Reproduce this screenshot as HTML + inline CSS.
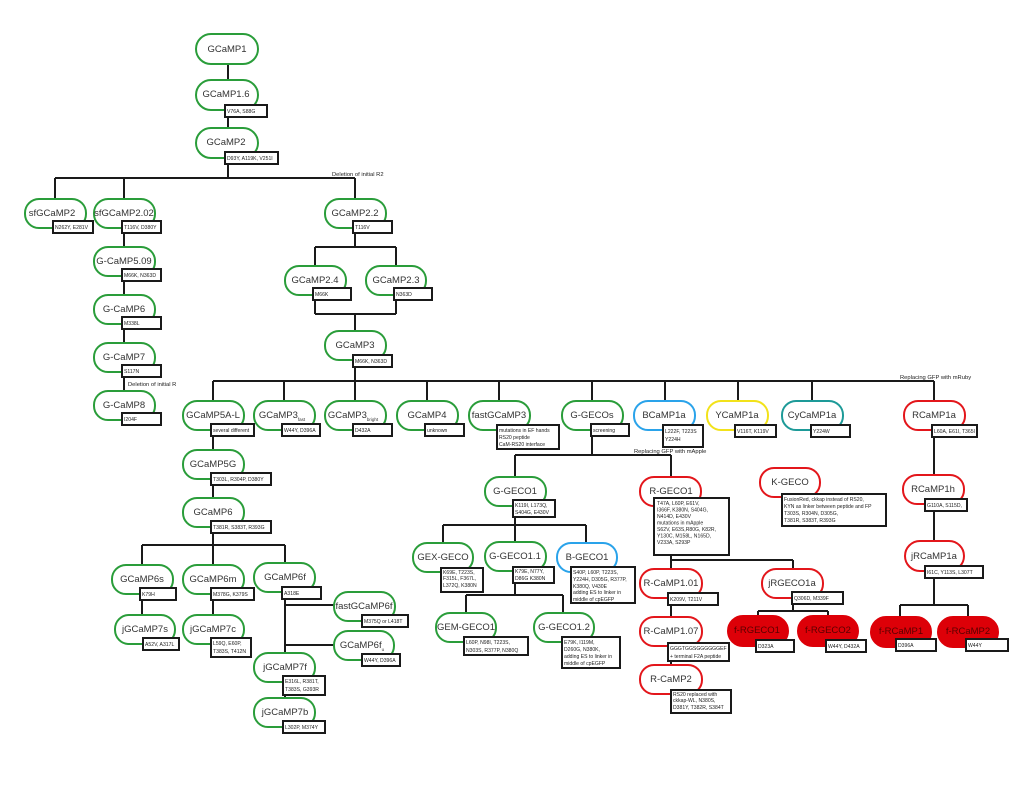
<!DOCTYPE html>
<html><head><meta charset="utf-8"><style>
html,body{margin:0;padding:0;background:#fff;}
svg{display:block;font-family:"Liberation Sans",sans-serif;}
.l{stroke:#1a1a1a;stroke-width:2;fill:none;}
.g{fill:#fff;stroke:#2a9d3a;stroke-width:2;}
.b{fill:#fff;stroke:#2aa3ea;stroke-width:2;}
.y{fill:#fff;stroke:#f2e21a;stroke-width:2;}
.c{fill:#fff;stroke:#1d9a98;stroke-width:2;}
.r{fill:#fff;stroke:#e3161b;stroke-width:2;}
.f{fill:#dd0008;stroke:#dd0008;stroke-width:2;}
.bx{fill:#fff;stroke:#1a1a1a;stroke-width:2;}
.n{font-size:9.5px;fill:#333;text-anchor:middle;}
.nf{font-size:9.5px;fill:#5a0000;text-anchor:middle;}
.t{font-size:5.1px;fill:#222;}
.lab{font-size:5.8px;fill:#222;}
.s{font-size:4.5px;}
</style></head><body>
<svg width="1024" height="807" viewBox="0 0 1024 807">
<path class="l" d="M228 64V80 M228 110V128 M228 158V178 M55 178H355 M55 178V199 M124 178V392 M355 178V247 M315 247H396 M315 247V314 M396 247V314 M315 314H396 M355 314V381 M213 381H934
M213 381V545 M284 381V401 M355 381V401 M427 381V401 M499 381V401 M592 381V455 M665 381V401 M738 381V401 M812 381V401 M934 381V605
M142 545H285 M142 545V615 M213 545V615 M285 545V698 M285 605H334 M285 645H334
M515 455H671 M515 455V595 M443 525H586 M443 525V543 M586 525V543 M466 595H563 M466 595V613 M563 595V613
M671 455V665 M671 560H793 M793 560V611 M758 611H828 M758 611V616 M828 611V616
M900 605H968 M900 605V617 M968 605V617"/>
<text class="lab" x="332" y="176">Deletion of initial R2</text>
<text class="lab" x="128" y="386">Deletion of initial R</text>
<text class="lab" x="900" y="379">Replacing GFP with mRuby</text>
<text class="lab" x="634" y="453">Replacing GFP with mApple</text>

<rect class="g" x="196" y="34" width="62" height="30" rx="15"/><text class="n" x="227" y="52">GCaMP1</text>
<rect class="g" x="196" y="80" width="62" height="30" rx="15"/><text class="n" x="226" y="97">GCaMP1.6</text>
<rect class="bx" x="225" y="105" width="42" height="12"/><text class="t" x="227" y="113">V76A, S88G</text>
<rect class="g" x="196" y="128" width="62" height="30" rx="15"/><text class="n" x="226" y="145">GCaMP2</text>
<rect class="bx" x="225" y="152" width="53" height="12"/><text class="t" x="227" y="160">D93Y, A119K, V251I</text>

<rect class="g" x="25" y="199" width="61" height="29" rx="14"/><text class="n" x="52" y="216">sfGCaMP2</text>
<rect class="bx" x="53" y="221" width="40" height="12"/><text class="t" x="55" y="229">N262Y, E281V</text>
<rect class="g" x="94" y="199" width="61" height="29" rx="14"/><text class="n" x="124" y="216">sfGCaMP2.02</text>
<rect class="bx" x="122" y="221" width="39" height="12"/><text class="t" x="124" y="229">T116V, D380Y</text>
<rect class="g" x="94" y="247" width="61" height="29" rx="14"/><text class="n" x="124" y="264">G-CaMP5.09</text>
<rect class="bx" x="122" y="269" width="39" height="12"/><text class="t" x="124" y="277">M66K, N363D</text>
<rect class="g" x="94" y="295" width="61" height="29" rx="14"/><text class="n" x="124" y="312">G-CaMP6</text>
<rect class="bx" x="122" y="317" width="39" height="12"/><text class="t" x="124" y="325">M338L</text>
<rect class="g" x="94" y="343" width="61" height="29" rx="14"/><text class="n" x="124" y="360">G-CaMP7</text>
<rect class="bx" x="122" y="365" width="39" height="12"/><text class="t" x="124" y="373">S117N</text>
<rect class="g" x="94" y="391" width="61" height="29" rx="14"/><text class="n" x="124" y="408">G-CaMP8</text>
<rect class="bx" x="122" y="413" width="39" height="12"/><text class="t" x="124" y="421">I204F</text>

<rect class="g" x="325" y="199" width="61" height="29" rx="14"/><text class="n" x="355" y="216">GCaMP2.2</text>
<rect class="bx" x="353" y="221" width="39" height="12"/><text class="t" x="355" y="229">T116V</text>
<rect class="g" x="285" y="266" width="61" height="29" rx="14"/><text class="n" x="315" y="283">GCaMP2.4</text>
<rect class="bx" x="313" y="288" width="38" height="12"/><text class="t" x="315" y="296">M66K</text>
<rect class="g" x="366" y="266" width="60" height="29" rx="14"/><text class="n" x="396" y="283">GCaMP2.3</text>
<rect class="bx" x="394" y="288" width="38" height="12"/><text class="t" x="396" y="296">N363D</text>
<rect class="g" x="325" y="331" width="61" height="29" rx="14"/><text class="n" x="355" y="348">GCaMP3</text>
<rect class="bx" x="353" y="355" width="39" height="12"/><text class="t" x="355" y="363">M66K, N363D</text>

<rect class="g" x="183" y="401" width="61" height="29" rx="14"/><text class="n" x="213" y="418">GCaMP5A-L</text>
<rect class="bx" x="211" y="424" width="43" height="12"/><text class="t" x="213" y="432">several different</text>
<rect class="g" x="254" y="401" width="61" height="29" rx="14"/><text class="n" x="282" y="418">GCaMP3<tspan class="s" dy="3">fast</tspan></text>
<rect class="bx" x="282" y="424" width="38" height="12"/><text class="t" x="284" y="432">W44Y, D396A</text>
<rect class="g" x="325" y="401" width="61" height="29" rx="14"/><text class="n" x="353" y="418">GCaMP3<tspan class="s" dy="3">bright</tspan></text>
<rect class="bx" x="353" y="424" width="39" height="12"/><text class="t" x="355" y="432">D432A</text>
<rect class="g" x="397" y="401" width="61" height="29" rx="14"/><text class="n" x="427" y="418">GCaMP4</text>
<rect class="bx" x="425" y="424" width="39" height="12"/><text class="t" x="427" y="432">unknown</text>
<rect class="g" x="469" y="401" width="61" height="29" rx="14"/><text class="n" x="499" y="418">fastGCaMP3</text>
<rect class="bx" x="497" y="425" width="62" height="24"/><text class="t" x="499" y="432">mutations in EF hands</text><text class="t" x="499" y="439">RS20 peptide</text><text class="t" x="499" y="446">CaM-RS20 interface</text>
<rect class="g" x="562" y="401" width="61" height="29" rx="14"/><text class="n" x="592" y="418">G-GECOs</text>
<rect class="bx" x="591" y="424" width="38" height="12"/><text class="t" x="593" y="432">screening</text>
<rect class="b" x="634" y="401" width="61" height="29" rx="14"/><text class="n" x="664" y="418">BCaMP1a</text>
<rect class="bx" x="663" y="425" width="40" height="22"/><text class="t" x="665" y="433">L222F, T223S</text><text class="t" x="665" y="441">Y224H</text>
<rect class="y" x="707" y="401" width="61" height="29" rx="14"/><text class="n" x="737" y="418">YCaMP1a</text>
<rect class="bx" x="735" y="425" width="41" height="12"/><text class="t" x="737" y="433">V116T, K119V</text>
<rect class="c" x="782" y="401" width="61" height="29" rx="14"/><text class="n" x="812" y="418">CyCaMP1a</text>
<rect class="bx" x="811" y="425" width="39" height="12"/><text class="t" x="813" y="433">Y224W</text>
<rect class="r" x="904" y="401" width="61" height="29" rx="14"/><text class="n" x="934" y="418">RCaMP1a</text>
<rect class="bx" x="932" y="425" width="45" height="12"/><text class="t" x="934" y="433">L60A, E61I, T365I</text>

<rect class="g" x="183" y="450" width="61" height="29" rx="14"/><text class="n" x="213" y="467">GCaMP5G</text>
<rect class="bx" x="211" y="473" width="60" height="12"/><text class="t" x="213" y="481">T303L, R304P, D380Y</text>
<rect class="g" x="183" y="498" width="61" height="29" rx="14"/><text class="n" x="213" y="515">GCaMP6</text>
<rect class="bx" x="211" y="521" width="60" height="12"/><text class="t" x="213" y="529">T381R, S383T, R393G</text>
<rect class="g" x="112" y="565" width="61" height="29" rx="14"/><text class="n" x="142" y="582">GCaMP6s</text>
<rect class="bx" x="140" y="588" width="36" height="12"/><text class="t" x="142" y="596">K79H</text>
<rect class="g" x="183" y="565" width="61" height="29" rx="14"/><text class="n" x="213" y="582">GCaMP6m</text>
<rect class="bx" x="211" y="588" width="43" height="12"/><text class="t" x="213" y="596">M378G, K379S</text>
<rect class="g" x="254" y="563" width="61" height="29" rx="14"/><text class="n" x="285" y="580">GCaMP6f</text>
<rect class="bx" x="282" y="587" width="39" height="12"/><text class="t" x="284" y="595">A318E</text>
<rect class="g" x="115" y="615" width="60" height="29" rx="14"/><text class="n" x="145" y="632">jGCaMP7s</text>
<rect class="bx" x="143" y="638" width="36" height="12"/><text class="t" x="145" y="646">A52V, A317L</text>
<rect class="g" x="183" y="615" width="61" height="29" rx="14"/><text class="n" x="213" y="632">jGCaMP7c</text>
<rect class="bx" x="211" y="638" width="40" height="19"/><text class="t" x="213" y="645">L59Q, E60P,</text><text class="t" x="213" y="653">T383S, T412N</text>
<rect class="g" x="334" y="592" width="61" height="29" rx="14"/><text class="n" x="364" y="609">fastGCaMP6f</text>
<rect class="bx" x="362" y="615" width="46" height="12"/><text class="t" x="364" y="623">M375Q or L418T</text>
<rect class="g" x="334" y="631" width="60" height="29" rx="14"/><text class="n" x="362" y="648">GCaMP6f<tspan class="s" dy="3">u</tspan></text>
<rect class="bx" x="362" y="654" width="38" height="12"/><text class="t" x="364" y="662">W44Y, D396A</text>
<rect class="g" x="254" y="653" width="61" height="29" rx="14"/><text class="n" x="285" y="670">jGCaMP7f</text>
<rect class="bx" x="283" y="676" width="42" height="19"/><text class="t" x="285" y="683">E316L, R381T,</text><text class="t" x="285" y="691">T383S, G393R</text>
<rect class="g" x="254" y="698" width="61" height="29" rx="14"/><text class="n" x="285" y="715">jGCaMP7b</text>
<rect class="bx" x="283" y="721" width="42" height="12"/><text class="t" x="285" y="729">L302P, M374Y</text>

<rect class="g" x="485" y="477" width="61" height="29" rx="14"/><text class="n" x="515" y="494">G-GECO1</text>
<rect class="bx" x="513" y="500" width="42" height="17"/><text class="t" x="515" y="507">K119I, L173Q,</text><text class="t" x="515" y="514">S404G, E430V</text>
<rect class="g" x="413" y="543" width="60" height="29" rx="14"/><text class="n" x="443" y="560">GEX-GECO</text>
<rect class="bx" x="441" y="568" width="42" height="24"/><text class="t" x="443" y="574">K69E, T223S,</text><text class="t" x="443" y="580">F315L, F367L,</text><text class="t" x="443" y="587">L372Q, K380N</text>
<rect class="g" x="485" y="542" width="61" height="29" rx="14"/><text class="n" x="515" y="559">G-GECO1.1</text>
<rect class="bx" x="513" y="567" width="41" height="16"/><text class="t" x="515" y="573">K79E, N77Y,</text><text class="t" x="515" y="580">D86G K380N</text>
<rect class="b" x="557" y="543" width="60" height="29" rx="14"/><text class="n" x="587" y="560">B-GECO1</text>
<rect class="bx" x="571" y="567" width="64" height="36"/><text class="t" x="573" y="574">S40P, L60P, T223S,</text><text class="t" x="573" y="581">Y224H, D305G, R377P,</text><text class="t" x="573" y="588">K380Q, V430E</text><text class="t" x="573" y="594">adding ES to linker in</text><text class="t" x="573" y="601">middle of cpEGFP</text>
<rect class="g" x="436" y="613" width="60" height="29" rx="14"/><text class="n" x="466" y="630">GEM-GECO1</text>
<rect class="bx" x="464" y="637" width="64" height="18"/><text class="t" x="466" y="644">L60P, N98I, T223S,</text><text class="t" x="466" y="652">N303S, R377P, N380Q</text>
<rect class="g" x="534" y="613" width="60" height="29" rx="14"/><text class="n" x="564" y="630">G-GECO1.2</text>
<rect class="bx" x="562" y="637" width="58" height="31"/><text class="t" x="564" y="644">E79K, I119M,</text><text class="t" x="564" y="651">D260G, N380K,</text><text class="t" x="564" y="658">adding ES to linker in</text><text class="t" x="564" y="665">middle of cpEGFP</text>

<rect class="r" x="640" y="477" width="61" height="29" rx="14"/><text class="n" x="671" y="494">R-GECO1</text>
<rect class="bx" x="654" y="498" width="75" height="57"/>
<text class="t" x="657" y="505">T47A, L60P, E61V,</text><text class="t" x="657" y="511.5">I366F, K380N, S404G,</text><text class="t" x="657" y="518">N414D, E430V</text><text class="t" x="657" y="524.5">mutations in mApple</text><text class="t" x="657" y="531">S62V, E63S,R80G, K82R,</text><text class="t" x="657" y="537.5">Y130C, M158L, N165D,</text><text class="t" x="657" y="544">V233A, S293P</text>
<rect class="r" x="640" y="569" width="62" height="29" rx="14"/><text class="n" x="671" y="586">R-CaMP1.01</text>
<rect class="bx" x="668" y="593" width="50" height="12"/><text class="t" x="670" y="601">K209V, T211V</text>
<rect class="r" x="640" y="617" width="62" height="29" rx="14"/><text class="n" x="671" y="634">R-CaMP1.07</text>
<rect class="bx" x="668" y="643" width="61" height="18"/><text class="t" x="670" y="650">GGGTGGSGGGGGGEF</text><text class="t" x="670" y="658">+ terminal F2A peptide</text>
<rect class="r" x="640" y="665" width="62" height="29" rx="14"/><text class="n" x="671" y="682">R-CaMP2</text>
<rect class="bx" x="671" y="690" width="60" height="23"/><text class="t" x="673" y="696">RS20 replaced with</text><text class="t" x="673" y="702">ckkap-WL, N380S,</text><text class="t" x="673" y="709">D381Y, T382R, S384T</text>
<rect class="r" x="762" y="569" width="61" height="29" rx="14"/><text class="n" x="792" y="586">jRGECO1a</text>
<rect class="bx" x="792" y="592" width="51" height="12"/><text class="t" x="794" y="600">Q306D, M339F</text>
<rect class="f" x="728" y="616" width="60" height="30" rx="15"/><text class="nf" x="757" y="633">f-RGECO1</text>
<rect class="bx" x="756" y="640" width="38" height="12"/><text class="t" x="758" y="648">D323A</text>
<rect class="f" x="798" y="616" width="60" height="30" rx="15"/><text class="nf" x="828" y="633">f-RGECO2</text>
<rect class="bx" x="826" y="640" width="40" height="12"/><text class="t" x="828" y="648">W44Y, D432A</text>

<rect class="r" x="760" y="468" width="60" height="29" rx="14"/><text class="n" x="790" y="485">K-GECO</text>
<rect class="bx" x="782" y="494" width="104" height="32"/><text class="t" x="784" y="501">FusionRed, ckkap instead of RS20,</text><text class="t" x="784" y="508">KYN as linker between peptide and FP</text><text class="t" x="784" y="515">T303S, R304N, D305G,</text><text class="t" x="784" y="522">T381R, S383T, R393G</text>

<rect class="r" x="903" y="475" width="61" height="29" rx="14"/><text class="n" x="933" y="492">RCaMP1h</text>
<rect class="bx" x="925" y="499" width="42" height="12"/><text class="t" x="927" y="507">G110A, S115D,</text>
<rect class="r" x="905" y="541" width="59" height="30" rx="15"/><text class="n" x="934" y="559">jRCaMP1a</text>
<rect class="bx" x="925" y="566" width="58" height="12"/><text class="t" x="927" y="574">I61C, Y113S, L307T</text>
<rect class="f" x="871" y="617" width="60" height="30" rx="15"/><text class="nf" x="901" y="634">f-RCaMP1</text>
<rect class="bx" x="896" y="639" width="40" height="12"/><text class="t" x="898" y="647">D396A</text>
<rect class="f" x="938" y="617" width="60" height="30" rx="15"/><text class="nf" x="968" y="634">f-RCaMP2</text>
<rect class="bx" x="966" y="639" width="42" height="12"/><text class="t" x="968" y="647">W44Y</text>
</svg>
</body></html>
